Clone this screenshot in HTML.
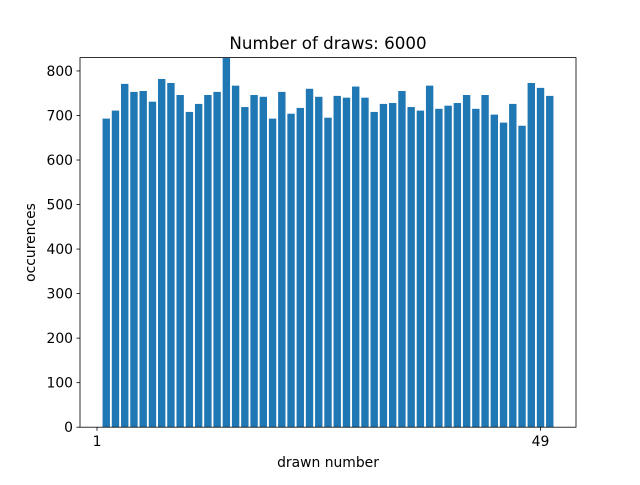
<!DOCTYPE html>
<html><head><meta charset="utf-8"><style>body{margin:0;background:#fff}svg text{font-family:"DejaVu Sans","Liberation Sans",sans-serif;fill:#000}</style></head>
<body>
<svg id="chart" width="640" height="480" xmlns="http://www.w3.org/2000/svg">
<rect width="640" height="480" fill="#fff"/>
<g id="bars"></g>
<g id="axes"></g>
<text x="328" y="49" font-size="16.7" text-anchor="middle">Number of draws: 6000</text>
<text x="328" y="467" font-size="13.9" text-anchor="middle">drawn number</text>
<text x="35" y="242.5" font-size="13.9" text-anchor="middle" transform="rotate(-90 35 242.5)">occurences</text>
</svg>
<script>
const categories = Array.from({length:49},(_,i)=>i+1);
const counts = [693,711,771,753,755,731,782,773,746,708,726,746,753,829,767,719,746,742,693,753,704,717,760,742,695,744,740,765,740,708,726,728,755,719,711,767,715,722,728,746,715,746,702,684,726,677,773,762,744];
const yTicks = [0,100,200,300,400,500,600,700,800];
const xTicks = [1,49];
const L=80,R=576,T=57.6,B=427.2,YMAX=830;
const ns="http://www.w3.org/2000/svg";
const xs=v=>97+(v-1)*9.24;
const ys=v=>B-(B-T)*v/YMAX;
const bars=document.getElementById('bars'), axes=document.getElementById('axes');
function mk(tag,attrs,parent){const e=document.createElementNS(ns,tag);for(const k in attrs)e.setAttribute(k,attrs[k]);parent.appendChild(e);return e;}
categories.forEach((c,i)=>{
  const w=0.8*9.24, cx=xs(c+1), y=ys(counts[i]);
  const r=mk('rect',{x:cx-w/2,y:Math.max(T,y),width:w,height:B-Math.max(T,y),fill:'#1f77b4'},bars);
  
  
});
const frame=mk('rect',{x:L,y:T,width:R-L,height:B-T,fill:'none',stroke:'#000','stroke-width':0.8},axes);


yTicks.forEach(t=>{
  const y=ys(t);
  mk('line',{x1:L-3.5,x2:L,y1:y,y2:y,stroke:'#000','stroke-width':0.8},axes);
  const tx=mk('text',{x:L-7,y:y+5,'font-size':13.9,'text-anchor':'end'},axes);
  tx.textContent=t;
  
  
});
xTicks.forEach(t=>{
  const x=xs(t);
  mk('line',{x1:x,x2:x,y1:B,y2:B+3.5,stroke:'#000','stroke-width':0.8},axes);
  const tx=mk('text',{x:x,y:B+19,'font-size':13.9,'text-anchor':'middle'},axes);
  tx.textContent=t;
  
  
});
</script>
</body></html>
